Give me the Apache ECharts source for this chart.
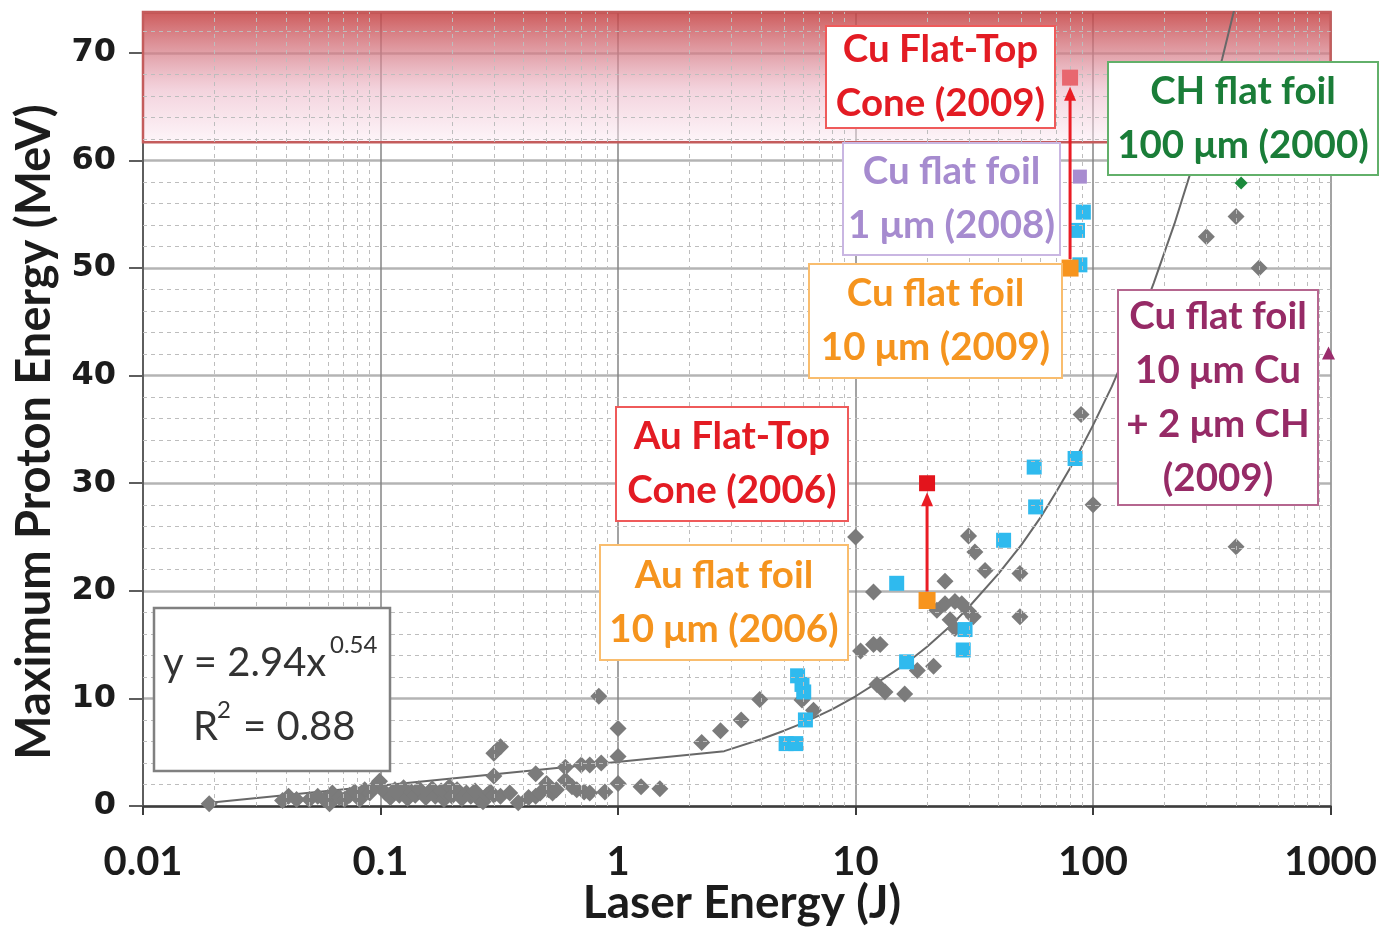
<!DOCTYPE html>
<html>
<head>
<meta charset="utf-8">
<script src="https://cdn.jsdelivr.net/npm/echarts@6/dist/echarts.min.js"></script>
<style>
  html, body { margin: 0; padding: 0; background: #ffffff; }
  #chart { width: 1380px; height: 927px; }
</style>
</head>
<body>
<div id="chart"></div>
<script>
// Laser energy (J) vs maximum proton energy (MeV)

const xTickLabels = ['0.01', '0.1', '1', '10', '100', '1000'];
const yTickLabels = [0, 10, 20, 30, 40, 50, 60, 70];

// compiled shots, flat foils and other targets
const otherShots = [
  [0.019, 0.2],
  [0.0387, 0.5], [0.041, 0.9], [0.0443, 0.6], [0.0502, 0.6], [0.0544, 0.9], [0.058, 0.6],
  [0.061, 0.2], [0.0627, 1.2], [0.0671, 0.8], [0.0705, 0.6], [0.0741, 1.0], [0.0778, 1.3],
  [0.0817, 0.6], [0.0858, 1.5], [0.0901, 1.2], [0.0946, 1.8], [0.0974, 2.0], [0.099, 2.3],
  [0.105, 1.2], [0.11, 0.8], [0.115, 1.5], [0.12, 1.0], [0.125, 1.7], [0.13, 0.7],
  [0.135, 1.3], [0.14, 1.0], [0.145, 1.6], [0.155, 0.8], [0.16, 1.2], [0.165, 1.6],
  [0.17, 0.9], [0.18, 1.4], [0.185, 0.6], [0.19, 1.1], [0.195, 1.8], [0.2, 0.9],
  [0.21, 1.5], [0.22, 0.7], [0.23, 1.2], [0.24, 0.9], [0.25, 1.4], [0.26, 0.6],
  [0.27, 0.4], [0.28, 1.0], [0.29, 1.3], [0.30, 2.8], [0.30, 4.9], [0.32, 5.5],
  [0.30, 1.0], [0.32, 0.9], [0.35, 1.2], [0.38, 0.3], [0.42, 0.8], [0.45, 3.0],
  [0.45, 0.9], [0.47, 1.2], [0.50, 2.1], [0.51, 1.5], [0.53, 1.2], [0.55, 1.5],
  [0.60, 3.6], [0.60, 2.4], [0.64, 1.8], [0.67, 1.5], [0.70, 3.8], [0.72, 1.3],
  [0.76, 3.8], [0.76, 1.2], [0.83, 10.2], [0.85, 4.0], [0.88, 1.3], [1.0, 7.2],
  [1.0, 4.6], [1.0, 2.1], [1.25, 1.8], [1.5, 1.6],
  [2.25, 5.9], [2.7, 7.0], [3.3, 8.0], [3.95, 9.9], [5.95, 9.85], [6.65, 8.9],
  [10.0, 25.0], [11.9, 19.9], [10.5, 14.4], [11.9, 15.0], [12.7, 15.0], [12.3, 11.3],
  [13.3, 10.6], [16.1, 10.4], [18.2, 12.6], [21.3, 13.0], [23.8, 20.9],
  [22.0, 18.2], [23.8, 18.8], [26.2, 19.0], [28.0, 18.8], [29.9, 18.1], [31.3, 17.6],
  [25.0, 17.3], [26.2, 16.5], [29.9, 25.1], [31.8, 23.6], [35.1, 21.9],
  [49.2, 21.6], [49.2, 17.6], [89.0, 36.4], [100.0, 28.0],
  [300.0, 52.9], [400.0, 54.8], [500.0, 50.0], [400.0, 24.1]
];

const cyanShots = [
  [5.1, 5.8], [5.6, 5.8], [5.7, 12.1], [5.95, 11.3], [6.05, 10.6], [6.15, 8.0],
  [14.9, 20.7], [16.4, 13.4], [28.9, 16.4], [28.4, 14.5], [42.0, 24.7],
  [56.5, 31.5], [57.3, 27.8], [84.0, 32.3], [88.0, 50.3], [86.0, 53.5], [91.0, 55.2]
];

const auFlatFoil = [[20, 19.1]];
const auFlatTopCone = [[20, 30.0]];
const cuFlatFoil10 = [[80, 50.0]];
const cuFlatTopCone = [[80, 67.7]];
const cuFlatFoil1 = [[88, 58.5]];
const chFlatFoil = [[420, 57.9]];
const cuChFoil = [[980, 42.1]];

// power-law fit y = 2.94 x^0.54, as plotted
const trendPoints = [
  [0.02, 0.35], [2.8, 5.1], [4, 6.2], [5, 7.0], [6, 7.7], [8, 9.0], [10, 10.2],
  [13, 11.8], [16, 13.1], [20, 14.8], [25, 16.7], [30, 18.5], [40, 21.6], [50, 24.3],
  [60, 26.8], [70, 29.2], [85, 32.4], [100, 35.4], [120, 39.0], [150, 44.0],
  [180, 48.6], [220, 54.1], [260, 59.2], [300, 64.0], [350, 69.5], [400, 74.7]
];

const yMax = 73.8;
const bandFrom = 61.7;

// minor grid: 2..9 within each decade, every 2 MeV between the major lines
const minorX = [];
for (let e = -2; e <= 2; e++) {
  for (let k = 2; k <= 9; k++) minorX.push(+(k * Math.pow(10, e)).toPrecision(3));
}
const minorY = [];
for (let v = 2; v < yMax; v += 2) if (v % 10 !== 0) minorY.push(v);

const FONT = 'Lato, "Open Sans", sans-serif';

const chart = echarts.init(document.getElementById('chart'), null, { renderer: 'canvas' });

function scatter(name, data, symbol, size, color, z) {
  return {
    name, type: 'scatter', data, symbol, symbolSize: size, z,
    itemStyle: { color, opacity: 1 }, silent: true, animation: false
  };
}

const option = {
  animation: false,
  backgroundColor: '#ffffff',
  grid: { left: 143, right: 47, top: 12, bottom: 121, containLabel: false },
  xAxis: {
    type: 'log', logBase: 10, min: 0.01, max: 1000,
    axisLine: { show: true, onZero: false, lineStyle: { color: '#3c3c3c', width: 2.5 } },
    axisTick: { show: true, length: 9, lineStyle: { color: '#3c3c3c', width: 2 } },
    axisLabel: {
      formatter: v => xTickLabels[Math.round(Math.log10(v)) + 2] || '',
      fontFamily: FONT, fontWeight: 'bold', fontSize: 40, color: '#1c1c1c', margin: 36
    },
    splitLine: { show: true, lineStyle: { color: '#858585', width: 1.5 } }
  },
  yAxis: {
    type: 'value', min: 0, max: yMax, interval: 10,
    axisLine: { show: true, lineStyle: { color: '#5e5e5e', width: 2 } },
    axisTick: { show: true, length: 14, lineStyle: { color: '#5e5e5e', width: 2 } },
    axisLabel: {
      formatter: v => (yTickLabels.indexOf(v) >= 0 ? String(v) : ''),
      showMaxLabel: false,
      fontFamily: '"DejaVu Sans", sans-serif', fontWeight: 'bold', fontSize: 32,
      color: '#1c1c1c', margin: 27
    },
    splitLine: { show: true, lineStyle: { color: '#b4b4b4', width: 2.5 } }
  },
  series: [
    {
      name: 'fit', type: 'line', data: trendPoints, showSymbol: false, z: 2,
      lineStyle: { color: '#686868', width: 2 }, silent: true,
      markLine: {
        silent: true, symbol: 'none', label: { show: false }, animation: false,
        lineStyle: { color: '#bdbdbd', width: 1, type: [4, 4] },
        data: minorX.map(v => ({ xAxis: v })).concat(minorY.map(v => ({ yAxis: v })))
      },
      markArea: {
        silent: true, animation: false,
        itemStyle: {
          color: {
            type: 'linear', x: 0, y: 0, x2: 0, y2: 1,
            colorStops: [
              { offset: 0, color: 'rgba(196,60,60,0.85)' },
              { offset: 0.3, color: 'rgba(212,118,128,0.72)' },
              { offset: 0.6, color: 'rgba(234,176,194,0.55)' },
              { offset: 1, color: 'rgba(252,236,244,0.5)' }
            ]
          },
          borderColor: '#c45c5c', borderWidth: 2.5
        },
        data: [[{ xAxis: 0.01, yAxis: bandFrom }, { xAxis: 1000, yAxis: yMax }]]
      }
    },
    scatter('other', otherShots, 'diamond', 17, '#7b7b7b', 3),
    scatter('cyan', cyanShots, 'rect', 15, '#2fbaee', 4),
    scatter('Au flat foil', auFlatFoil, 'rect', 17, '#f7941d', 5),
    scatter('Au Flat-Top Cone', auFlatTopCone, 'rect', 16, '#e3141c', 5),
    scatter('Cu flat foil 10', cuFlatFoil10, 'rect', 17, '#f7941d', 5),
    scatter('Cu Flat-Top Cone', cuFlatTopCone, 'rect', 16, '#e8676f', 5),
    scatter('Cu flat foil 1', cuFlatFoil1, 'rect', 14, '#a88cd0', 5),
    scatter('CH flat foil', chFlatFoil, 'diamond', 13, '#1b8a3c', 5),
    scatter('Cu + CH', cuChFoil, 'triangle', 13, '#9a2c6c', 5)
  ]
};

chart.setOption(option);

const TOP = 100;

// annotation boxes (z on every drawable element so they stay above the series)
function box(x, y, w, h, lines, color, border) {
  return [
    { type: 'rect', z: TOP, shape: { x, y, width: w, height: h },
      style: { fill: '#ffffff', stroke: border, lineWidth: 2 } },
    { type: 'text', z: TOP + 1,
      style: { x: x + w / 2, y: y + h / 2, text: lines.join('\n'), fill: color,
               font: 'bold 38.5px ' + FONT, textAlign: 'center', textVerticalAlign: 'middle',
               align: 'center', verticalAlign: 'middle', lineHeight: 54 } }
  ];
}

function text(x, y, str, size) {
  return {
    type: 'text', z: TOP + 1,
    style: { x, y, text: str, fill: '#333333', font: size + 'px ' + FONT,
             textAlign: 'left', textVerticalAlign: 'middle', align: 'left', verticalAlign: 'middle' }
  };
}

// red arrows from flat foil to flat-top cone
function arrow(from, to) {
  const p1 = chart.convertToPixel({ gridIndex: 0 }, from);
  const p2 = chart.convertToPixel({ gridIndex: 0 }, to);
  const x = p2[0];
  const tip = p2[1] + 9;
  const c = '#ea1c24';
  return [
    { type: 'line', z: TOP - 10, shape: { x1: p1[0], y1: p1[1] - 9, x2: x, y2: tip + 10 },
      style: { stroke: c, lineWidth: 3 } },
    { type: 'polygon', z: TOP - 10, shape: { points: [[x, tip], [x - 6, tip + 14], [x + 6, tip + 14]] },
      style: { fill: c } }
  ];
}

const graphics = [
  ...arrow(auFlatFoil[0], auFlatTopCone[0]),
  ...arrow(cuFlatFoil10[0], cuFlatTopCone[0]),
  ...box(826, 26, 229, 102, ['Cu Flat-Top', 'Cone (2009)'], '#e31b23', '#ef5a5a'),
  ...box(1108, 62, 270, 113, ['CH flat foil', '100 μm (2000)'], '#1a7d38', '#62b06a'),
  ...box(843, 143, 217, 112, ['Cu flat foil', '1 μm (2008)'], '#a68bcf', '#c9b6e2'),
  ...box(809, 264, 253, 114, ['Cu flat foil', '10 μm (2009)'], '#f5941e', '#f9bd6e'),
  ...box(1118, 290, 200, 215, ['Cu flat foil', '10 μm Cu', '+ 2 μm CH', '(2009)'], '#962a66', '#b5668f'),
  ...box(616, 407, 232, 114, ['Au Flat-Top', 'Cone (2006)'], '#e31b23', '#ef5a5a'),
  ...box(600, 545, 248, 115, ['Au flat foil', '10 μm (2006)'], '#f5941e', '#f9bd6e'),
  { type: 'rect', z: TOP, shape: { x: 154, y: 608, width: 236, height: 163 },
    style: { fill: '#ffffff', stroke: '#808080', lineWidth: 2.5 } },
  text(163, 663, 'y = 2.94x', 40),
  text(330, 645, '0.54', 24),
  text(193, 727, 'R', 40),
  text(217, 710, '2', 24),
  text(243, 727, '= 0.88', 40),
  { type: 'text', z: TOP + 1, x: 35, y: 432, rotation: Math.PI / 2,
    style: { x: 0, y: 0, text: 'Maximum Proton Energy (MeV)', fill: '#1c1c1c',
             font: 'bold 47px ' + FONT, textAlign: 'center', textVerticalAlign: 'middle',
             align: 'center', verticalAlign: 'middle' } },
  { type: 'text', z: TOP + 1, x: 742, y: 903,
    style: { x: 0, y: 0, text: 'Laser Energy (J)', fill: '#1c1c1c',
             font: 'bold 46px ' + FONT, textAlign: 'center', textVerticalAlign: 'middle',
             align: 'center', verticalAlign: 'middle' } }
];

chart.setOption({ graphic: graphics });
</script>
</body>
</html>
